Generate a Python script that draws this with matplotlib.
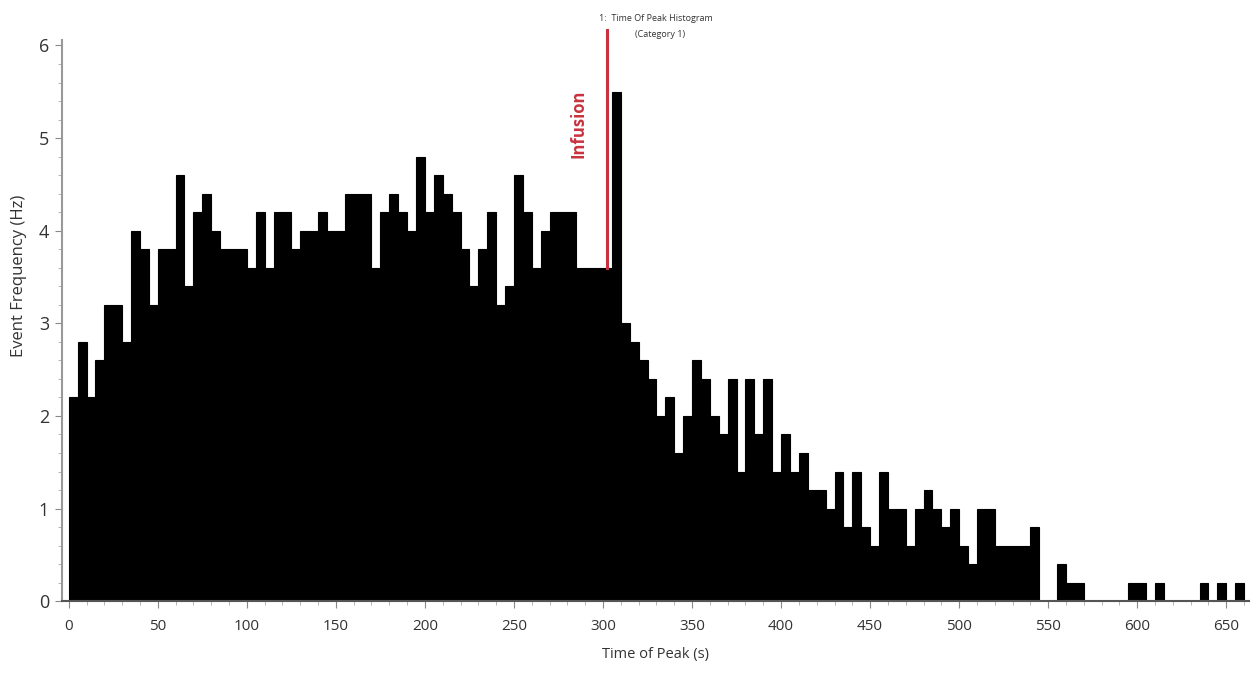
import numpy as np
import matplotlib
matplotlib.use("Agg")
import matplotlib.pyplot as plt
from matplotlib.ticker import MultipleLocator

plt.rcParams['font.family'] = ['Open Sans', 'DejaVu Sans']

# Histogram data: 5 s bins starting at 0 s
bin_width = 5
event_freq = [
    2.2, 2.8, 2.2, 2.6, 3.2, 3.2, 2.8, 4.0, 3.8, 3.2,   # 0-50
    3.8, 3.8, 4.6, 3.4, 4.2, 4.4, 4.0, 3.8, 3.8, 3.8,   # 50-100
    3.6, 4.2, 3.6, 4.2, 4.2, 3.8, 4.0, 4.0, 4.2, 4.0,   # 100-150
    4.0, 4.4, 4.4, 4.4, 3.6, 4.2, 4.4, 4.2, 4.0, 4.8,   # 150-200
    4.2, 4.6, 4.4, 4.2, 3.8, 3.4, 3.8, 4.2, 3.2, 3.4,   # 200-250
    4.6, 4.2, 3.6, 4.0, 4.2, 4.2, 4.2, 3.6, 3.6, 3.6,   # 250-300
    3.6, 5.5, 3.0, 2.8, 2.6, 2.4, 2.0, 2.2, 1.6, 2.0,   # 300-350
    2.6, 2.4, 2.0, 1.8, 2.4, 1.4, 2.4, 1.8, 2.4, 1.4,   # 350-400
    1.8, 1.4, 1.6, 1.2, 1.2, 1.0, 1.4, 0.8, 1.4, 0.8,   # 400-450
    0.6, 1.4, 1.0, 1.0, 0.6, 1.0, 1.2, 1.0, 0.8, 1.0,   # 450-500
    0.6, 0.4, 1.0, 1.0, 0.6, 0.6, 0.6, 0.6, 0.8, 0.0,   # 500-550
    0.0, 0.4, 0.2, 0.2, 0.0, 0.0, 0.0, 0.0, 0.0, 0.2,   # 550-600
    0.2, 0.0, 0.2, 0.0, 0.0, 0.0, 0.0, 0.2, 0.0, 0.2,   # 600-650
    0.0, 0.2,                                           # 650-660
]
bin_left = np.arange(len(event_freq)) * bin_width

# Infusion marker
infusion_time = 302.5
infusion_base = 3.6
infusion_top = 6.17

fig = plt.figure(figsize=(12.57, 6.77), dpi=100)
ax = fig.add_axes([0.049, 0.112, 0.945, 0.829])

ax.bar(bin_left, event_freq, width=bin_width, align='edge',
       color='black', edgecolor='black', linewidth=0.8)

# red infusion line
ax.plot([infusion_time, infusion_time], [infusion_base, infusion_top],
        color='#c8323f', linewidth=2.2, clip_on=False, zorder=5)
ax.text(286, 5.15, 'Infusion', rotation=90, color='#c8323f',
        fontsize=12, fontweight='bold', ha='center', va='center')

ax.set_xlim(-4, 663)
ax.set_ylim(0, 6.06)

ax.xaxis.set_major_locator(MultipleLocator(50))
ax.xaxis.set_minor_locator(MultipleLocator(10))
ax.yaxis.set_major_locator(MultipleLocator(1))
ax.yaxis.set_minor_locator(MultipleLocator(0.2))

ax.tick_params(axis='x', which='major', labelsize=11, length=5,
               color='#888888', labelcolor='#333333', pad=8)
ax.tick_params(axis='y', which='major', labelsize=13, length=5,
               color='#888888', labelcolor='#333333', pad=4)
ax.tick_params(which='minor', length=3, color='#aaaaaa')

for side in ['top', 'right']:
    ax.spines[side].set_visible(False)
ax.spines['left'].set_color('#999999')
ax.spines['left'].set_linewidth(1.5)
ax.spines['bottom'].set_color('#555555')
ax.spines['bottom'].set_linewidth(1.5)

ax.set_xlabel('Time of Peak (s)', fontsize=10.5, color='#333333', labelpad=9)
ax.set_ylabel('Event Frequency (Hz)', fontsize=12, color='#333333')
ax.yaxis.set_label_coords(-0.029, 0.58)

# small chart title at the top
fig.text(0.522, 0.973, '1:  Time Of Peak Histogram', fontsize=6.5,
         ha='center', va='center', color='#333333')
fig.text(0.525, 0.949, '(Category 1)', fontsize=6.5,
         ha='center', va='center', color='#333333')

fig.savefig('out.png', dpi=100)
